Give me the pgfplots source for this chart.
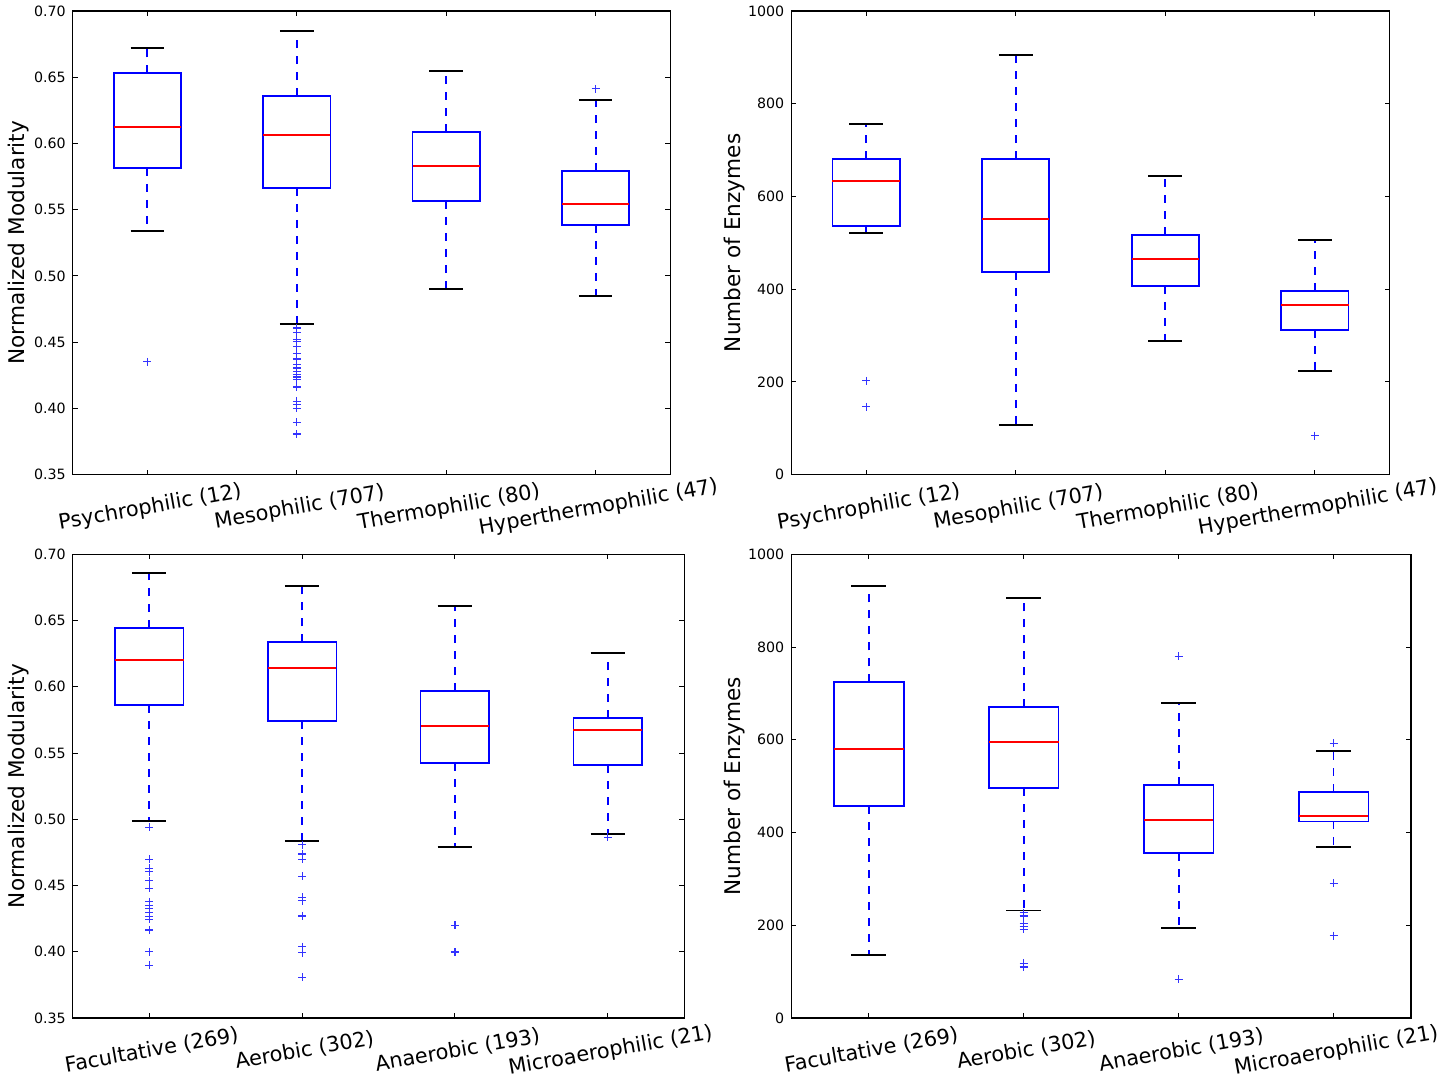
\documentclass[border=0pt]{standalone}
\usepackage{pgfplots}
\pgfplotsset{compat=1.18}
\usepackage{fontspec}
\setmainfont{DejaVu Sans}
\pgfplotsset{
  myax/.style={
    scale only axis, xmin=0.5, xmax=4.5, xtick={1,2,3,4},
    tick align=inside, major tick length=2.5pt,
    axis line style={line width=0.7pt},
    every tick/.style={black, line width=0.5pt},
    /pgf/number format/assume math mode=true,
    /pgf/number format/1000 sep={},
    yticklabel style={font=\fontsize{7.1}{8}\selectfont},
    xticklabel style={font=\fontsize{10.4}{12}\selectfont, rotate=10, anchor=north, yshift=-8pt, xshift=-1.5pt},
    ylabel style={font=\fontsize{10.8}{12}\selectfont, anchor=center},
    height=231.85pt,
    anchor=north west,
  },
  modax/.style={ymin=0.35, ymax=0.70, ytick={0.35,0.40,...,0.71},
    yticklabel style={/pgf/number format/.cd, fixed, fixed zerofill, precision=2},
    ylabel={Normalized Modularity}},
  enzax/.style={ymin=0, ymax=1000, ytick={0,200,...,1000},
    ylabel={Number of Enzymes}},
  boxst/.style={draw=blue, line width=0.9pt, no marks, solid, line join=miter},
  medst/.style={draw=red, line width=0.9pt, no marks, solid},
  whst/.style={draw=blue, line width=0.9pt, no marks, dash pattern=on 4pt off 4pt},
  capst/.style={draw=black, line width=0.9pt, no marks, solid},
  outst/.style={color=blue!80, only marks, mark=+, mark size=2pt, mark options={solid, line width=0.55pt, draw=blue!80}},
}
% #1 position, #2 lower whisker, #3 lower quartile, #4 median, #5 upper quartile, #6 upper whisker
\newcommand{\bxp}[6]{%
  \pgfmathsetmacro{\xl}{#1-0.225}\pgfmathsetmacro{\xr}{#1+0.225}%
  \pgfmathsetmacro{\cl}{#1-0.1125}\pgfmathsetmacro{\cr}{#1+0.1125}%
  \addplot[whst] coordinates {(#1,#3) (#1,#2)};
  \addplot[whst] coordinates {(#1,#5) (#1,#6)};
  \addplot[capst] coordinates {(\cl,#2) (\cr,#2)};
  \addplot[capst] coordinates {(\cl,#6) (\cr,#6)};
  \addplot[boxst] coordinates {(\xl,#3) (\xr,#3) (\xr,#5) (\xl,#5)} -- cycle;
  \addplot[medst] coordinates {(\xl,#4) (\xr,#4)};
}
\begin{document}
\begin{tikzpicture}
\useasboundingbox (0,0) rectangle (720.5pt,-542.5pt);
% Top left
\begin{axis}[myax, modax, at={(36.35pt,-5.5pt)}, width=298.8pt,
  ylabel style={at={(axis description cs:-0.09,0.5)}},
  xticklabels={Psychrophilic (12), Mesophilic (707), Thermophilic (80), Hyperthermophilic (47)}]
\bxp{1}{0.534}{0.5815}{0.6127}{0.653}{0.6723}
\bxp{2}{0.4639}{0.5665}{0.6065}{0.6358}{0.6851}
\bxp{3}{0.4903}{0.5567}{0.5831}{0.6087}{0.6547}
\bxp{4}{0.485}{0.5386}{0.5544}{0.5793}{0.6329}
\addplot[outst] coordinates {(1,0.4352)
  (2,0.4607) (2,0.4575) (2,0.4523) (2,0.4505) (2,0.4468) (2,0.4418) (2,0.4373) (2,0.4330) (2,0.4305) (2,0.4280)
  (2,0.4254) (2,0.4237) (2,0.4217) (2,0.4162) (2,0.4053) (2,0.4028) (2,0.4003) (2,0.3894) (2,0.3807)
  (4,0.6412)};
\end{axis}
% Top right
\begin{axis}[myax, enzax, at={(395.65pt,-5.5pt)}, width=299.2pt,
  ylabel style={at={(axis description cs:-0.0955,0.5)}},
  xticklabels={Psychrophilic (12), Mesophilic (707), Thermophilic (80), Hyperthermophilic (47)}]
\bxp{1}{521.5}{536.6}{633.6}{681}{756.5}
\bxp{2}{107.8}{437.5}{551.7}{681}{905}
\bxp{3}{288.8}{407.3}{465.5}{517}{644}
\bxp{4}{224}{312.5}{366.4}{396.5}{506.5}
\addplot[outst] coordinates {(1,202.6) (1,146.5) (4,84)};
\end{axis}
% Bottom left
\begin{axis}[myax, modax, at={(36.35pt,-277.15pt)}, width=305.8pt,
  ylabel style={at={(axis description cs:-0.088,0.5)}},
  xticklabels={Facultative (269), Aerobic (302), Anaerobic (193), Microaerophilic (21)}]
\bxp{1}{0.4988}{0.5861}{0.6200}{0.6442}{0.6857}
\bxp{2}{0.4835}{0.5740}{0.6140}{0.6336}{0.6759}
\bxp{3}{0.479}{0.5423}{0.5703}{0.5967}{0.6608}
\bxp{4}{0.4888}{0.5408}{0.5672}{0.5763}{0.6253}
\addplot[outst] coordinates {
  (1,0.4938) (1,0.4697) (1,0.4629) (1,0.4604) (1,0.4536) (1,0.4478) (1,0.4377) (1,0.4352) (1,0.4327) (1,0.4294)
  (1,0.4264) (1,0.4244) (1,0.4164) (1,0.4000) (1,0.3899)
  (2,0.4809) (2,0.4738) (2,0.4697) (2,0.4571) (2,0.4411) (2,0.4386) (2,0.4270) (2,0.4039) (2,0.3994) (2,0.3808)
  (3,0.4200) (3,0.3998)
  (4,0.4865)};
\end{axis}
% Bottom right
\begin{axis}[myax, enzax, at={(395.65pt,-277.15pt)}, width=309.85pt,
  ylabel style={at={(axis description cs:-0.092,0.5)}},
  xticklabels={Facultative (269), Aerobic (302), Anaerobic (193), Microaerophilic (21)}]
\bxp{1}{135.8}{456.9}{579.7}{724}{931}
\bxp{2}{232}{495.7}{594.8}{670}{905}
\bxp{3}{194}{355.6}{426.7}{502}{678.8}
\bxp{4}{368.5}{423.9}{435.3}{487.7}{575.4}
\addplot[outst] coordinates {(2,227) (2,220) (2,204) (2,198) (2,191) (2,118) (2,110)
  (3,780) (3,84) (4,592) (4,290.3) (4,177.4)};
\end{axis}
\end{tikzpicture}
\end{document}
